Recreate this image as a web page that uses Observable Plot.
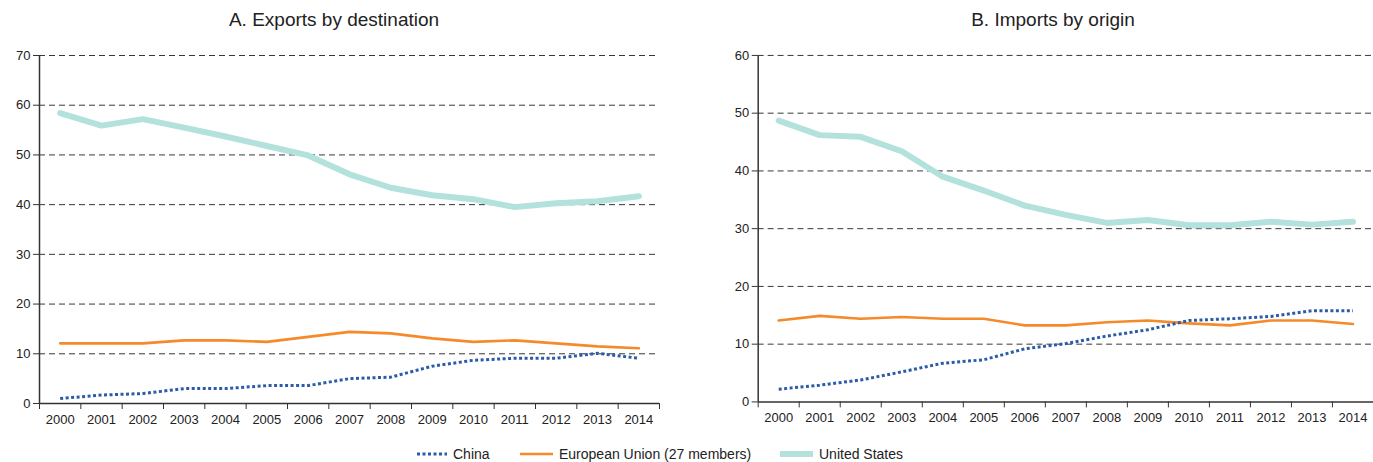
<!DOCTYPE html>
<html>
<head>
<meta charset="utf-8">
<script src="https://cdn.jsdelivr.net/npm/d3@7"></script>
<script src="https://cdn.jsdelivr.net/npm/@observablehq/plot@0.6"></script>
<style>
  html, body { margin: 0; padding: 0; background: #fff; }
  body { width: 1373px; height: 462px; overflow: hidden; position: relative;
         font-family: "Liberation Sans", Arial, Helvetica, sans-serif; color: #222; }
  .title { position: absolute; top: 9px; font-size: 19px; transform: translateX(-50%); white-space: nowrap; }
  .panel { position: absolute; top: 40px; }
  #legend { position: absolute; top: 444px; left: 0; width: 1373px; height: 20px; }
  .item { position: absolute; top: 0; display: flex; align-items: center; font-size: 14px; white-space: nowrap; }
  .item svg { margin-right: 6px; }
</style>
</head>
<body>
<div class="title" style="left:334px">A. Exports by destination</div>
<div class="title" style="left:1053px">B. Imports by origin</div>
<div id="left" class="panel" style="left:0px"></div>
<div id="right" class="panel" style="left:686px"></div>
<div id="legend"></div>
<script>
// ---- data ----
const years = [2000, 2001, 2002, 2003, 2004, 2005, 2006, 2007, 2008, 2009, 2010, 2011, 2012, 2013, 2014];
const seriesNames = ["China", "European Union (27 members)", "United States"];

const exportsChina = [1.0, 1.7, 2.0, 3.0, 3.0, 3.6, 3.6, 5.0, 5.3, 7.5, 8.7, 9.1, 9.1, 10.1, 9.1];
const exportsEU    = [12.1, 12.1, 12.1, 12.7, 12.7, 12.4, 13.4, 14.4, 14.1, 13.1, 12.4, 12.7, 12.1, 11.5, 11.1];
const exportsUS    = [58.4, 55.9, 57.2, 55.5, 53.7, 51.8, 49.9, 46.1, 43.4, 41.9, 41.1, 39.5, 40.3, 40.7, 41.7];

const importsChina = [2.2, 2.9, 3.8, 5.2, 6.7, 7.3, 9.2, 10.1, 11.4, 12.5, 14.1, 14.4, 14.8, 15.8, 15.8];
const importsEU    = [14.1, 14.9, 14.4, 14.7, 14.4, 14.4, 13.25, 13.25, 13.8, 14.1, 13.6, 13.25, 14.1, 14.1, 13.5];
const importsUS    = [48.7, 46.2, 45.9, 43.4, 39.0, 36.6, 34.0, 32.4, 31.0, 31.5, 30.6, 30.6, 31.2, 30.7, 31.2];

const exportTicks = [0, 10, 20, 30, 40, 50, 60, 70];
const importTicks = [0, 10, 20, 30, 40, 50, 60];

// ---- styles ----
const styles = {
  "China": {stroke: "#2b5ca8", strokeWidth: 3, strokeDasharray: "3,2.5", strokeLinecap: "butt"},
  "European Union (27 members)": {stroke: "#f58a2b", strokeWidth: 2.6},
  "United States": {stroke: "#b3e1db", strokeWidth: 6}
};

function rows(vals) { return years.map((y, i) => ({year: y, value: vals[i]})); }

function panel(chinaVals, euVals, usVals, yTicks, width, marginLeft, marginRight) {
  const ymax = yTicks[yTicks.length - 1];
  const bounds = years.map(y => y - 0.5).concat([years[years.length - 1] + 0.5]);
  return Plot.plot({
    width, height: 400,
    marginTop: 15, marginBottom: 37, marginLeft, marginRight,
    x: {type: "linear", domain: [years[0] - 0.5, years[years.length - 1] + 0.5]},
    y: {domain: [0, ymax]},
    style: {fontFamily: "'Liberation Sans', Arial, sans-serif", fontSize: "13px", color: "#222", background: "white", overflow: "visible"},
    marks: [
      Plot.gridY(yTicks.filter(t => t > 0), {stroke: "#222", strokeOpacity: 0.9, strokeWidth: 1, strokeDasharray: "6,4"}),
      Plot.axisY(yTicks, {tickSize: 6, tickPadding: 3, stroke: "#333", label: null, tickFormat: d => String(d)}),
      Plot.axisX(bounds, {tickSize: 6, stroke: "#333", label: null, tickFormat: () => ""}),
      Plot.axisX(years, {tickSize: 0, tickPadding: 11, label: null, tickFormat: d => String(d)}),
      Plot.ruleX([bounds[0]], {stroke: "#333", strokeWidth: 1.5}),
      Plot.ruleY([0], {stroke: "#333", strokeWidth: 1.5}),
      Plot.line(rows(usVals), {x: "year", y: "value", ...styles["United States"]}),
      Plot.line(rows(euVals), {x: "year", y: "value", ...styles["European Union (27 members)"]}),
      Plot.line(rows(chinaVals), {x: "year", y: "value", ...styles["China"]})
    ]
  });
}

document.getElementById("left").appendChild(
  panel(exportsChina, exportsEU, exportsUS, exportTicks, 686, 39, 27));
document.getElementById("right").appendChild(
  panel(importsChina, importsEU, importsUS, importTicks, 690, 72, 0));

// ---- legend ----
const legendPos = [417, 520, 780];
const legend = document.getElementById("legend");
seriesNames.forEach((name, i) => {
  const s = styles[name];
  const item = document.createElement("div");
  item.className = "item";
  item.style.left = legendPos[i] + "px";
  const w = i === 0 ? 30 : 33;
  item.innerHTML = `<svg width="${w}" height="20"><line x1="0" x2="${w}" y1="10" y2="10" stroke="${s.stroke}" stroke-width="${s.strokeWidth}" ${s.strokeDasharray ? `stroke-dasharray="${s.strokeDasharray}"` : ""}/></svg><span>${name}</span>`;
  legend.appendChild(item);
});
</script>
</body>
</html>
